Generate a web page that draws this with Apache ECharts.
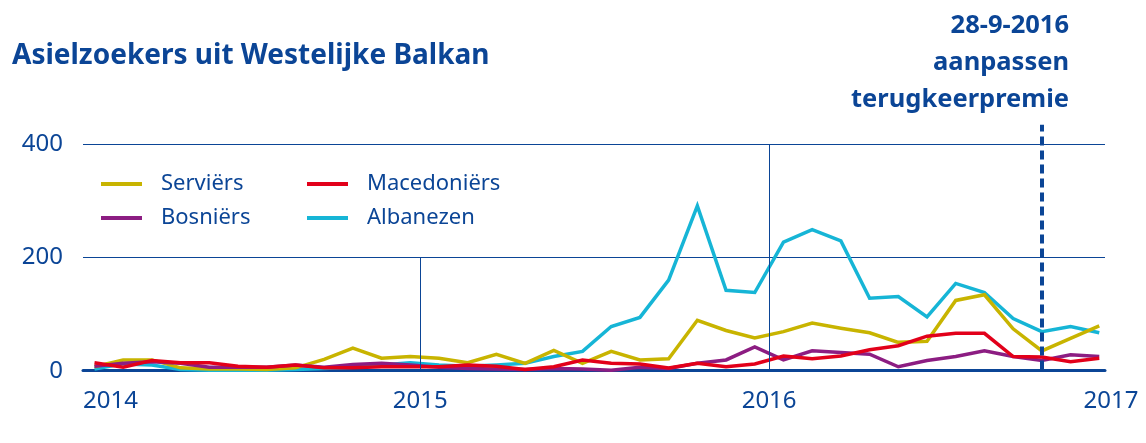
<!DOCTYPE html>
<html>
<head>
<meta charset="utf-8">
<script src="https://cdn.jsdelivr.net/npm/echarts@6/dist/echarts.min.js"></script>
<style>
  html, body { margin: 0; padding: 0; background: #fff; }
  #chart { width: 1146px; height: 443px; }
</style>
</head>
<body>
<div id="chart"></div>
<script>
// maandcijfers jan 2014 t/m dec 2016
const yearLabels = ["2014", "2015", "2016", "2017"];
const yLabels = [0, 200, 400];
const serviers = [7, 19, 19, 5, 3, 3, 2, 5, 20, 40, 22, 25, 22, 14, 29, 13, 36, 13, 34, 19, 21, 89, 71, 58, 69, 84, 75, 67, 50, 52, 124, 134, 74, 35, 57, 79];
const macedoniers = [14, 6, 18, 14, 14, 8, 6, 10, 5, 5, 7, 7, 7, 10, 8, 2, 7, 19, 13, 12, 5, 13, 7, 12, 26, 21, 26, 37, 44, 61, 66, 66, 25, 24, 16, 22];
const bosniers = [8, 13, 16, 13, 6, 6, 6, 10, 6, 11, 13, 10, 6, 4, 3, 2, 4, 3, 1, 6, 4, 13, 19, 42, 19, 35, 32, 29, 7, 18, 25, 35, 25, 18, 28, 25];
const albanezen = [3, 12, 10, 2, 1, 1, 1, 2, 4, 6, 10, 14, 10, 8, 10, 13, 25, 34, 78, 94, 160, 291, 142, 138, 227, 249, 229, 128, 131, 95, 154, 138, 92, 69, 78, 67];

const blue = "#0b4596";
const font = "Noto Sans";
const yearAt = [-0.4, 11.35, 23.5, 35.2];
const pairs = (arr) => arr.map((v, i) => [i, v]);

const chart = echarts.init(document.getElementById("chart"));

const lineSeries = (name, data, color) => ({
  name: name,
  type: "line",
  data: pairs(data),
  symbol: "none",
  clip: false,
  lineStyle: { width: 3.5, color: color, join: "miter" },
  itemStyle: { color: color },
});

const alb = lineSeries("Albanezen", albanezen, "#16b5d6");
alb.markLine = {
  silent: true,
  symbol: ["none", "none"],
  label: { show: false },
  z: 6,
  data: [
    [
      { coord: [11.35, 0], lineStyle: { color: blue, width: 1, type: "solid" } },
      { coord: [11.35, 200] },
    ],
    [
      { coord: [23.5, 0], lineStyle: { color: blue, width: 1, type: "solid" } },
      { coord: [23.5, 400] },
    ],
    [
      { coord: [32.98, 2], lineStyle: { color: blue, width: 4, type: [9, 5] } },
      { coord: [32.98, 434] },
    ],
  ],
};

const legendCol = (names, left) => ({
  data: names,
  left: left,
  top: 168,
  orient: "vertical",
  icon: "rect",
  itemWidth: 41,
  itemHeight: 4,
  itemGap: 12,
  textStyle: {
    fontFamily: font,
    fontSize: 22,
    padding: [0, 0, 0, 14],
    color: blue,
  },
});

const option = {
  animation: false,
  backgroundColor: "#fff",
  title: [
    {
      text: "Asielzoekers uit Westelijke Balkan",
      left: 7,
      top: 37,
      textStyle: { fontFamily: font, fontWeight: "bold", fontSize: 28, color: blue },
    },
    {
      text: "28-9-2016\naanpassen\nterugkeerpremie",
      left: 1064,
      top: 2,
      textAlign: "right",
      textStyle: {
        fontFamily: font,
        fontWeight: "bold",
        fontSize: 25.5,
        lineHeight: 37,
        color: blue,
        align: "right",
      },
    },
  ],
  legend: [
    legendCol(["Serviërs", "Bosniërs"], 96),
    legendCol(["Macedoniërs", "Albanezen"], 302),
  ],
  grid: { left: 83, right: 41, top: 124.8, bottom: 72.3 },
  xAxis: {
    type: "value",
    min: -0.4,
    max: 35.2,
    splitLine: { show: false },
    axisTick: { show: false },
    axisLine: { lineStyle: { color: blue, width: 3 } },
    axisLabel: {
      customValues: yearAt,
      alignMinLabel: "left",
      margin: 18,
      fontFamily: font,
      fontSize: 24,
      color: blue,
      formatter: (v) => {
        const i = yearAt.indexOf(v);
        if (i === yearAt.length - 1) return "{p|" + yearLabels[i] + "}";
        return yearLabels[i];
      },
      rich: { p: { padding: [0, 0, 0, 12], fontFamily: font, fontSize: 24, color: blue } },
    },
  },
  yAxis: {
    type: "value",
    min: yLabels[0],
    max: 434,
    interval: 200,
    axisLine: { show: false },
    axisTick: { show: false },
    splitLine: { showMaxLine: false, lineStyle: { color: blue, width: 1 } },
    axisLabel: {
      customValues: yLabels,
      margin: 20,
      fontFamily: font,
      fontSize: 24,
      color: blue,
    },
  },
  series: [
    alb,
    lineSeries("Serviërs", serviers, "#c8b400"),
    lineSeries("Bosniërs", bosniers, "#8c1d82"),
    lineSeries("Macedoniërs", macedoniers, "#e2001a"),
  ],
};

chart.setOption(option);
</script>
</body>
</html>
